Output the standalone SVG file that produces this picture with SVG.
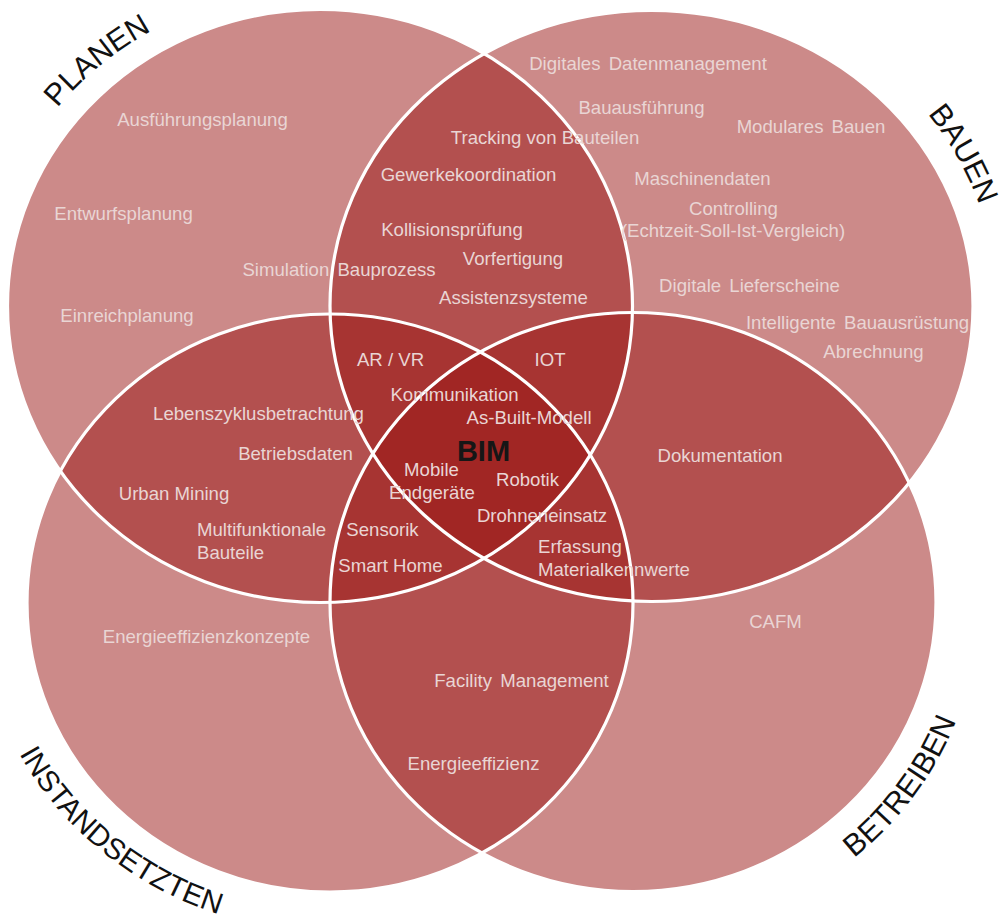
<svg xmlns="http://www.w3.org/2000/svg" xmlns:xlink="http://www.w3.org/1999/xlink" width="1006" height="919" viewBox="0 0 1006 919">
  <style>
    .set { fill: #9B1A17; fill-opacity: 0.51; stroke: none; }
    .outline { fill: none; stroke: #FFFFFF; stroke-width: 3.2; }
    .item { font-family: "Liberation Sans", Arial, sans-serif; font-size: 18.6px; fill: #E9D5D4; text-anchor: middle; }
    .left { text-anchor: start; }
    .wide { word-spacing: 3px; }
    .label { font-family: "Liberation Sans", Arial, sans-serif; font-size: 30.5px; fill: #111111; }
    .label-s { font-size: 29.5px; }
    .core { font-family: "Liberation Sans", Arial, sans-serif; font-size: 29px; font-weight: bold; fill: #161616; text-anchor: middle; }
  </style>
  <defs>
    <path id="arc-planen" d="M-3.5,222 A332,316 0 0 1 275,-8.5"/>
    <path id="arc-bauen" d="M862.3,52.9 A345.5,319.5 0 0 1 996.7,292.6"/>
    <path id="arc-betreiben" d="M777,904.3 A346,332.5 0 0 0 977.5,633.3"/>
    <path id="arc-instand" d="M-12,677 A352,338 0 0 0 300,930"/>
  </defs>
  <rect width="1006" height="919" fill="#FFFFFF"/>

  <g id="set-planen"><ellipse class="set" cx="320" cy="306" rx="312.5" ry="296.5"/></g>
  <g id="set-bauen"><ellipse class="set" cx="651.5" cy="306" rx="321.5" ry="295.5"/></g>
  <g id="set-instandsetzten"><ellipse class="set" cx="330" cy="603" rx="303" ry="289"/></g>
  <g id="set-betreiben"><ellipse class="set" cx="633" cy="602" rx="303" ry="289.5"/></g>

  <g id="outlines">
    <ellipse class="outline" cx="320" cy="306" rx="312.5" ry="296.5"/>
    <ellipse class="outline" cx="651.5" cy="306" rx="321.5" ry="295.5"/>
    <ellipse class="outline" cx="330" cy="603" rx="303" ry="289"/>
    <ellipse class="outline" cx="633" cy="602" rx="303" ry="289.5"/>
  </g>

  <g id="labels">
    <text class="label"><textPath href="#arc-planen" xlink:href="#arc-planen" startOffset="50%" text-anchor="middle">PLANEN</textPath></text>
    <text class="label"><textPath href="#arc-bauen" xlink:href="#arc-bauen" startOffset="50%" text-anchor="middle">BAUEN</textPath></text>
    <text class="label"><textPath href="#arc-betreiben" xlink:href="#arc-betreiben" startOffset="50%" text-anchor="middle">BETREIBEN</textPath></text>
    <text class="label label-s"><textPath href="#arc-instand" xlink:href="#arc-instand" startOffset="50%" text-anchor="middle">INSTANDSETZTEN</textPath></text>
  </g>

  <g id="region-planen">
    <text class="item" x="202.5" y="126">Ausführungsplanung</text>
    <text class="item" x="123.5" y="220">Entwurfsplanung</text>
    <text class="item wide" x="339" y="276">Simulation Bauprozess</text>
    <text class="item" x="127" y="322">Einreichplanung</text>
  </g>
  <g id="region-planen-bauen">
    <text class="item" x="545" y="144">Tracking von Bauteilen</text>
    <text class="item" x="468.5" y="181">Gewerkekoordination</text>
    <text class="item" x="452" y="236">Kollisionsprüfung</text>
    <text class="item" x="513" y="265">Vorfertigung</text>
    <text class="item" x="513.5" y="304">Assistenzsysteme</text>
  </g>
  <g id="region-bauen">
    <text class="item wide" x="648" y="70">Digitales Datenmanagement</text>
    <text class="item" x="641.5" y="114">Bauausführung</text>
    <text class="item wide" x="811" y="133">Modulares Bauen</text>
    <text class="item" x="702.5" y="185">Maschinendaten</text>
    <text class="item" x="733.5" y="215">Controlling</text>
    <text class="item" x="733" y="237">(Echtzeit-Soll-Ist-Vergleich)</text>
    <text class="item wide" x="749.5" y="292">Digitale Lieferscheine</text>
    <text class="item wide" x="857.5" y="329">Intelligente Bauausrüstung</text>
    <text class="item" x="873.5" y="358">Abrechnung</text>
  </g>
  <g id="region-planen-instandsetzten">
    <text class="item" x="258.5" y="420">Lebenszyklusbetrachtung</text>
    <text class="item" x="295.5" y="460">Betriebsdaten</text>
    <text class="item" x="174" y="500">Urban Mining</text>
    <text class="item left" x="197" y="536">Multifunktionale</text>
    <text class="item left" x="197" y="559">Bauteile</text>
  </g>
  <g id="region-triples">
    <text class="item" x="390.5" y="366">AR / VR</text>
    <text class="item" x="550" y="366">IOT</text>
    <text class="item" x="382.5" y="536">Sensorik</text>
    <text class="item" x="390.5" y="572">Smart Home</text>
    <text class="item left" x="538" y="553">Erfassung</text>
    <text class="item left" x="538" y="576">Materialkennwerte</text>
  </g>
  <g id="region-bim">
    <text class="core" x="483.5" y="461">BIM</text>
    <text class="item" x="454.5" y="401">Kommunikation</text>
    <text class="item" x="529" y="424">As-Built-Modell</text>
    <text class="item" x="431.5" y="476">Mobile</text>
    <text class="item" x="432" y="499">Endgeräte</text>
    <text class="item" x="527.5" y="486">Robotik</text>
    <text class="item" x="542" y="522">Drohneneinsatz</text>
  </g>
  <g id="region-bauen-betreiben">
    <text class="item" x="720" y="462">Dokumentation</text>
  </g>
  <g id="region-betreiben">
    <text class="item" x="775.5" y="628">CAFM</text>
  </g>
  <g id="region-instandsetzten">
    <text class="item" x="206.5" y="643">Energieeffizienzkonzepte</text>
  </g>
  <g id="region-instandsetzten-betreiben">
    <text class="item wide" x="521.5" y="687">Facility Management</text>
    <text class="item" x="473.5" y="770">Energieeffizienz</text>
  </g>
</svg>
